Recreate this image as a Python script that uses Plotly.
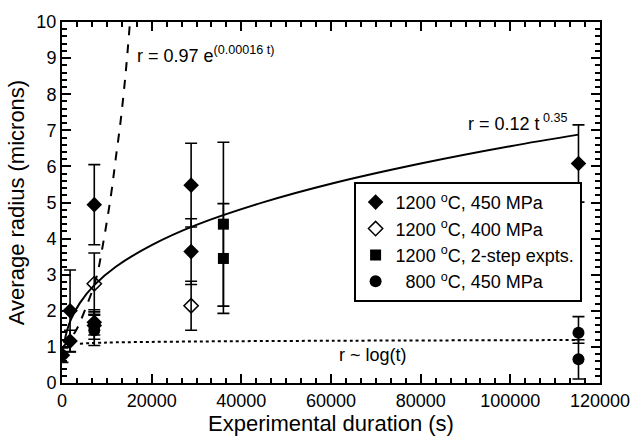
import plotly.graph_objects as go

# ---- data ----
fd_x = [100, 1800, 1800, 7200, 7200, 7200, 28800, 28800, 115200]
fd_y = [0.77, 2.0, 1.16, 4.94, 1.68, 1.59, 5.48, 3.64, 6.08]
fd_ep = [0.2, 1.13, 0.3, 1.11, 0.35, 0.38, 1.16, 0.91, 1.07]
fd_em = [0.2, 1.13, 0.3, 1.11, 0.35, 0.38, 1.16, 0.91, 1.07]

od_x = [7200, 28800]
od_y = [2.75, 2.14]
od_e = [0.85, 0.68]

sq_x = [36000, 36000]
sq_y = [4.4, 3.45]
sq_e = [2.27, 1.52]

ci_x = [7200, 115200, 115200]
ci_y = [1.46, 1.39, 0.66]
ci_ep = [0.42, 0.45, 0.54]
ci_em = [0.42, 0.29, 0.55]

# fit curves
pw_t = [500, 1000, 2000, 4000, 7200, 12000, 20000, 30000, 45000, 60000, 80000, 100000, 115200]
pw_r = [1.1, 1.4, 1.76, 2.22, 2.71, 3.22, 3.82, 4.38, 5.01, 5.52, 6.08, 6.56, 6.88]

ex_t = [0, 2860, 5050, 7620, 9080, 10920, 12020, 13120, 14210, 15165]
ex_r = [0.97, 1.4, 2.0, 2.9, 3.8, 5.2, 6.25, 7.3, 8.6, 10.0]

lg_t = [4000, 10000, 30000, 60000, 115200]
lg_r = [1.09, 1.12, 1.15, 1.17, 1.19]

x_ticks = [0, 20000, 40000, 60000, 80000, 100000, 120000]
y_ticks = list(range(0, 11))

FONT = "Liberation Sans, Arial, Helvetica, sans-serif"
BLK = "black"

fig = go.Figure()

# curves
fig.add_trace(go.Scatter(x=pw_t, y=pw_r, mode="lines", line=dict(color=BLK, width=2, shape="spline"),
                         showlegend=False, hoverinfo="skip"))
fig.add_trace(go.Scatter(x=ex_t, y=ex_r, mode="lines", line=dict(color=BLK, width=2, dash="dash", shape="spline"),
                         showlegend=False, hoverinfo="skip"))
fig.add_trace(go.Scatter(x=lg_t, y=lg_r, mode="lines", line=dict(color=BLK, width=2, dash="dot", shape="spline"),
                         showlegend=False, hoverinfo="skip"))

err = dict(type="data", symmetric=False, color=BLK, thickness=1.6, width=6)

fig.add_trace(go.Scatter(
    x=fd_x, y=fd_y, mode="markers", name="1200 <sup>o</sup>C, 450 MPa",
    marker=dict(symbol="diamond", size=12, color=BLK, line=dict(color=BLK, width=0)),
    error_y=dict(err, array=fd_ep, arrayminus=fd_em)))
fig.add_trace(go.Scatter(
    x=od_x, y=od_y, mode="markers", name="1200 <sup>o</sup>C, 400 MPa",
    marker=dict(symbol="diamond-open", size=11, color=BLK, line=dict(color=BLK, width=1.5)),
    error_y=dict(err, array=od_e, arrayminus=od_e)))
fig.add_trace(go.Scatter(
    x=sq_x, y=sq_y, mode="markers", name="1200 <sup>o</sup>C, 2-step expts.",
    marker=dict(symbol="square", size=11, color=BLK, line=dict(color=BLK, width=0)),
    error_y=dict(err, array=sq_e, arrayminus=sq_e)))
fig.add_trace(go.Scatter(
    x=ci_x, y=ci_y, mode="markers", name="  800 <sup>o</sup>C, 450 MPa",
    marker=dict(symbol="circle", size=12, color=BLK, line=dict(color=BLK, width=0)),
    error_y=dict(err, array=ci_ep, arrayminus=ci_em)))

fig.add_annotation(x=16300, y=9.09, xref="x", yref="y", text="r = 0.97 e<sup>(0.00016 t)</sup>",
                   showarrow=False, xanchor="left", yanchor="middle", font=dict(size=18, color=BLK, family=FONT))
fig.add_annotation(x=90000, y=7.23, xref="x", yref="y", text="r = 0.12 t<sup> 0.35</sup>",
                   showarrow=False, xanchor="left", yanchor="middle", font=dict(size=18, color=BLK, family=FONT))
fig.add_annotation(x=61400, y=0.77, xref="x", yref="y", text="r ~ log(t)",
                   showarrow=False, xanchor="left", yanchor="middle", font=dict(size=18, color=BLK, family=FONT))

axis_common = dict(showline=True, linewidth=2, linecolor=BLK, mirror="allticks", ticks="inside",
                   tickwidth=2, ticklen=9, tickcolor=BLK, showgrid=False, zeroline=False,
                   tickfont=dict(size=18, color=BLK, family=FONT))

fig.update_xaxes(axis_common, range=[0, 120000], tickvals=x_ticks, ticktext=[str(v) for v in x_ticks],
                 minor=dict(dtick=20000 / 6, tick0=0, ticks="inside", ticklen=5, tickwidth=1.5, tickcolor=BLK),
                 title=dict(text="Experimental duration (s)", font=dict(size=22, color=BLK, family=FONT), standoff=2))
fig.update_yaxes(axis_common, range=[0, 10], tickvals=y_ticks, ticktext=[str(v) for v in y_ticks],
                 minor=dict(dtick=0.2, tick0=0, ticks="inside", ticklen=5, tickwidth=1.5, tickcolor=BLK),
                 title=dict(text="Average radius (microns)", font=dict(size=22, color=BLK, family=FONT), standoff=6))

fig.update_layout(
    width=642, height=440,
    margin=dict(l=62, r=34, t=13, b=44),
    plot_bgcolor="white", paper_bgcolor="white",
    font=dict(family=FONT, color=BLK),
    legend=dict(x=0.542, y=0.557, xanchor="left", yanchor="top", bgcolor="white",
                bordercolor=BLK, borderwidth=2, font=dict(size=18, color=BLK, family=FONT),
                tracegroupgap=0, itemwidth=30),
)

fig.write_html("out.html")
